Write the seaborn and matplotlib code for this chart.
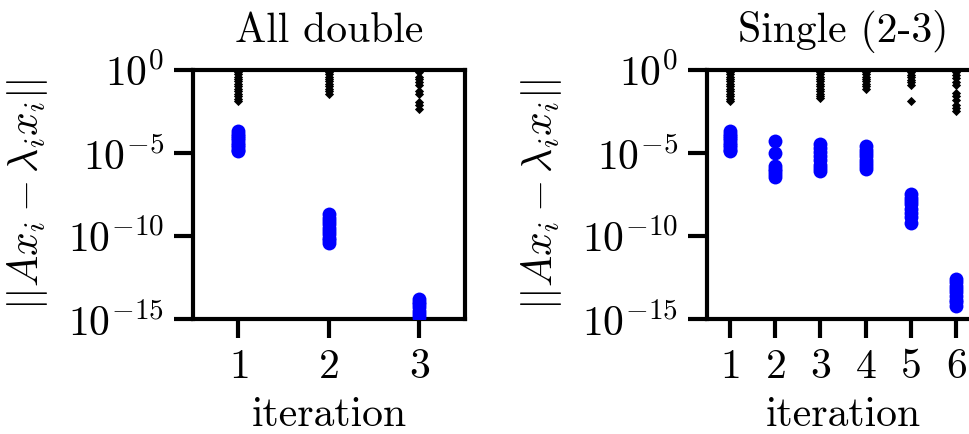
import numpy as np
import pandas as pd
import matplotlib
matplotlib.use("Agg")
import matplotlib.pyplot as plt
import seaborn as sns

sns.set_style("ticks")
plt.rcParams.update({
    "font.family": "serif",
    "font.serif": ["cmr10", "DejaVu Serif"],
    "mathtext.fontset": "cm",
    "axes.formatter.use_mathtext": True,
    "axes.unicode_minus": False,
    "axes.linewidth": 3.0,
    "axes.edgecolor": "black",
    "axes.labelcolor": "black",
    "text.color": "black",
    "xtick.color": "black",
    "ytick.color": "black",
    "xtick.major.width": 3.0,
    "ytick.major.width": 3.0,
    "xtick.major.size": 14,
    "ytick.major.size": 14,
    "xtick.labelsize": 30,
    "ytick.labelsize": 30,
    "axes.labelsize": 30,
    "axes.titlesize": 30,
})

# log10 residuals of the target eigenpairs (blue) and of the remaining pairs (black)
double_target = {
    1: [-3.7, -3.85, -4.0, -4.1, -4.25, -4.4, -4.5, -4.65, -4.8, -4.9],
    2: [-8.7, -8.9, -9.1, -9.3, -9.5, -9.7, -9.9, -10.1, -10.25, -10.4],
    3: [-13.8, -13.95, -14.1, -14.3, -14.5, -14.7, -14.9, -15.1],
}
double_other = {
    1: [0.2, 0.05, -0.1, -0.25, -0.4, -0.55, -0.7, -0.85, -1.0, -1.15, -1.3,
        -1.45, -1.6, -1.75, -1.9],
    2: [0.2, 0.05, -0.1, -0.25, -0.4, -0.55, -0.7, -0.85, -1.0, -1.15, -1.3,
        -1.45],
    3: [-0.1, -0.4, -0.55, -0.75, -0.9, -1.3, -1.45, -1.95, -2.1, -2.35],
}
single_target = {
    1: [-3.7, -3.85, -4.0, -4.1, -4.25, -4.4, -4.5, -4.65, -4.8, -4.9],
    2: [-4.3, -5.0, -5.8, -5.95, -6.1, -6.25, -6.45],
    3: [-4.45, -4.7, -4.95, -5.2, -5.45, -5.7, -5.9, -6.1],
    4: [-4.6, -4.8, -5.0, -5.2, -5.4, -5.6, -5.8, -5.95],
    5: [-7.5, -7.7, -7.9, -8.1, -8.35, -8.6, -8.85, -9.2],
    6: [-12.6, -12.8, -13.0, -13.2, -13.4, -13.6, -13.85, -14.0, -14.2],
}
single_other = {
    1: [0.2, 0.05, -0.1, -0.25, -0.4, -0.55, -0.7, -0.85, -1.0, -1.15, -1.3,
        -1.45, -1.6, -1.75, -1.9],
    3: [0.2, 0.05, -0.1, -0.25, -0.4, -0.55, -0.7, -0.85, -1.0, -1.15, -1.3,
        -1.45, -1.6, -1.7],
    4: [0.1, -0.1, -0.25, -0.4, -0.55, -0.7, -0.85, -1.0, -1.15],
    5: [0.1, -0.1, -0.3, -0.45, -0.6, -0.75, -0.9, -1.85],
    6: [-0.1, -0.3, -0.5, -0.75, -0.9, -1.4, -1.55, -1.8, -2.1, -2.3, -2.45],
}

titles = ["All double", "Single (2-3)"]
ylabel = r"$||Ax_i - \lambda_i x_i||$"


def to_frame(target, other):
    rows = []
    for it, vals in target.items():
        rows += [(it, 10.0 ** v, "target") for v in vals]
    for it, vals in other.items():
        rows += [(it, 10.0 ** v, "other") for v in vals]
    return pd.DataFrame(rows, columns=["iteration", "residual", "kind"])


fig = plt.figure(figsize=(9.70, 4.34), dpi=100)
ax_l = fig.add_axes([0.199, 0.265, 0.280, 0.574])
ax_r = fig.add_axes([0.729, 0.265, 0.280, 0.574])

panels = [
    (ax_l, to_frame(double_target, double_other), 3),
    (ax_r, to_frame(single_target, single_other), 6),
]

for (axis, df, n_it), title in zip(panels, titles):
    tgt = df[df.kind == "target"]
    oth = df[df.kind == "other"]
    sns.scatterplot(data=tgt, x="iteration", y="residual", ax=axis,
                    color="#0000ff", marker="o", s=100, linewidth=0, zorder=3)
    sns.scatterplot(data=oth, x="iteration", y="residual", ax=axis,
                    color="black", marker="D", s=22, linewidth=0, zorder=4)
    axis.set_yscale("log")
    axis.set_ylim(1e-15, 1e0)
    axis.set_xlim(0.5, n_it + 0.5)
    axis.set_xticks(range(1, n_it + 1))
    axis.set_yticks([1e0, 1e-5, 1e-10, 1e-15])
    axis.yaxis.set_minor_locator(matplotlib.ticker.NullLocator())
    axis.set_xlabel("iteration", labelpad=8)
    axis.set_ylabel(ylabel, labelpad=13)
    axis.set_title(title, pad=20)
    for sp in axis.spines.values():
        sp.set_linewidth(3.0)
        sp.set_visible(True)
    axis.tick_params(axis="both", which="major", direction="out", pad=7)

fig.savefig("out.png", dpi=100)
